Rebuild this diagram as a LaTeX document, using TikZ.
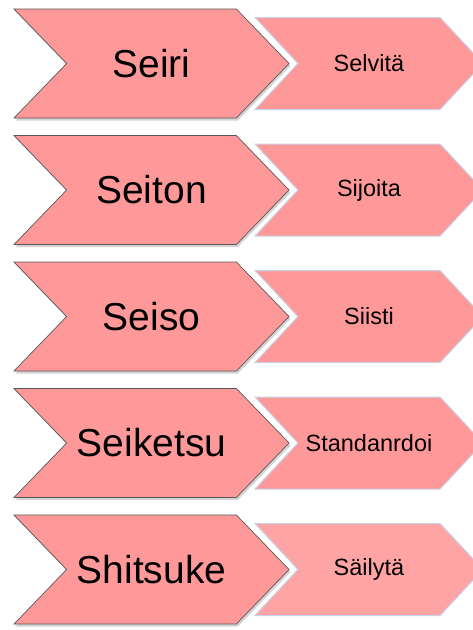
\documentclass[tikz,border=0pt]{standalone}
\usepackage{fontspec}
\setmainfont{Liberation Sans}
\usepackage{tikz}
\usetikzlibrary{shapes.symbols}
\usetikzlibrary{shadows}

\definecolor{pinkfill}{RGB}{255,153,153}
\definecolor{pinklight}{RGB}{255,164,164}
\definecolor{bluerim}{RGB}{200,210,230}

\begin{document}
\begin{tikzpicture}[x=1pt, y=1pt, node distance=126.5pt]
	\tikzstyle{big} = [signal, signal to=east, signal from=west, signal pointer angle=92,
	  draw=black!65, line width=0.7pt, fill=pinkfill, minimum width=275pt, minimum height=109pt,
	  inner sep=0pt, font=\fontsize{39}{44}\selectfont,
	  drop shadow={opacity=0.35, shadow xshift=1.5pt, shadow yshift=-2.5pt}]
	\tikzstyle{small} = [signal, signal to=east, signal from=west, signal pointer angle=94,
	  draw=bluerim, line width=1pt, fill=pinkfill, minimum width=228pt, minimum height=92pt,
	  inner sep=0pt, font=\fontsize{23.5}{28}\selectfont]
	\useasboundingbox (0,0) rectangle (473,-630);
	\begin{scope}
	  \path
	  node[big] (seiri) at (151.5,-63.5) {Seiri}
	  node[big, below of=seiri] (seiton) {Seiton}
	  node[big, below of=seiton] (seiso) {Seiso}
	  node[big, below of=seiso] (seiketsu) {Seiketsu}
	  node[big, below of=seiketsu] (shitsuke) {Shitsuke}
	  node[small, right of=seiri, node distance=217.5pt] (selvita) {Selvitä}
	  node[small, right of=seiton, node distance=217.5pt] (sijoita) {Sijoita}
	  node[small, right of=seiso, node distance=217.5pt] (siisti) {Siisti}
	  node[small, right of=seiketsu, node distance=217.5pt] (standardoi) {Standanrdoi}
	  node[small, fill=pinklight, right of=shitsuke, node distance=217.5pt] (sailyta) {Säilytä}
	  ;
	\end{scope}
\end{tikzpicture}
\end{document}
